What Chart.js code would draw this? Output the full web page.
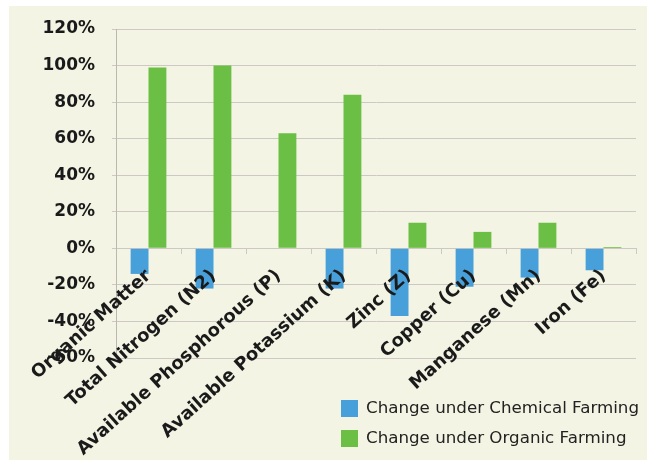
<!DOCTYPE html>
<html>
<head>
<meta charset="utf-8">
<script src="https://cdn.jsdelivr.net/npm/chart.js@4"></script>
<style>
html, body { margin: 0; padding: 0; background: #ffffff; }
#marco { position: absolute; left: 9px; top: 6px; width: 638px; height: 454px; background: #f4f4e4; }
</style>
</head>
<body>
<div id="marco"><canvas id="grafico" width="638" height="454"></canvas></div>
<script>
const categorias = ['Organic Matter', 'Total Nitrogen (N2)', 'Available Phosphorous (P)', 'Available Potassium (K)', 'Zinc (Z)', 'Copper (Cu)', 'Manganese (Mn)', 'Iron (Fe)'];
const cambioQuimico = [-14, -22, 0, -22, -37, -21, -16, -12];
const cambioOrganico = [99, 100, 63, 84, 14, 9, 14, 0.7];
const ticksY = [-60, -40, -20, 0, 20, 40, 60, 80, 100, 120];

const fuente = '"DejaVu Sans", Verdana, sans-serif';
const colorRejilla = '#cdc8c3';

// leyenda dibujada a mano, apilada abajo a la derecha
const leyendaPropia = {
    id: 'leyendaPropia',
    afterDraw(chart) {
        const ctx = chart.ctx;
        ctx.save();
        ctx.font = '16.7px ' + fuente;
        ctx.textBaseline = 'middle';
        chart.data.datasets.forEach((ds, i) => {
            const y = 402 + i * 30;
            ctx.fillStyle = ds.backgroundColor;
            ctx.fillRect(332, y - 8, 17, 17);
            ctx.fillStyle = '#222222';
            ctx.fillText(ds.label, 357, y + 1);
        });
        ctx.restore();
    }
};

const ctx = document.getElementById('grafico').getContext('2d');
const grafico = new Chart(ctx, {
    type: 'bar',
    data: {
        labels: categorias,
        datasets: [{
            label: 'Change under Chemical Farming',
            data: cambioQuimico,
            backgroundColor: '#47a0da',
            barPercentage: 1,
            categoryPercentage: 0.55
        }, {
            label: 'Change under Organic Farming',
            data: cambioOrganico,
            backgroundColor: '#6bbf45',
            barPercentage: 1,
            categoryPercentage: 0.55
        }]
    },
    options: {
        responsive: false,
        animation: false,
        layout: { padding: { top: 23, right: 11, left: 0, bottom: 102 } },
        plugins: {
            legend: { display: false },
            tooltip: { enabled: false }
        },
        scales: {
            x: {
                position: { y: 0 },
                grid: { drawOnChartArea: false, offset: true, tickLength: 5, color: colorRejilla },
                border: { color: colorRejilla },
                ticks: {
                    z: 1,
                    autoSkip: false,
                    minRotation: 42,
                    maxRotation: 42,
                    padding: 12,
                    color: '#1a1a1a',
                    font: { family: fuente, size: 18, weight: 'bold' }
                }
            },
            y: {
                min: -60,
                max: 120,
                afterBuildTicks(scale) { scale.ticks = ticksY.map(v => ({ value: v })); },
                grid: { color: colorRejilla, tickLength: 4 },
                border: { color: '#bdb7b2' },
                ticks: {
                    padding: 17,
                    color: '#1a1a1a',
                    font: { family: fuente, size: 17, weight: 'bold' },
                    callback: v => v + '%'
                },
                afterFit(scale) {
                    scale.width = 107;
                    scale.paddingTop = 0;
                    scale.paddingBottom = 0;
                }
            }
        }
    },
    plugins: [leyendaPropia]
});
</script>
</body>
</html>
